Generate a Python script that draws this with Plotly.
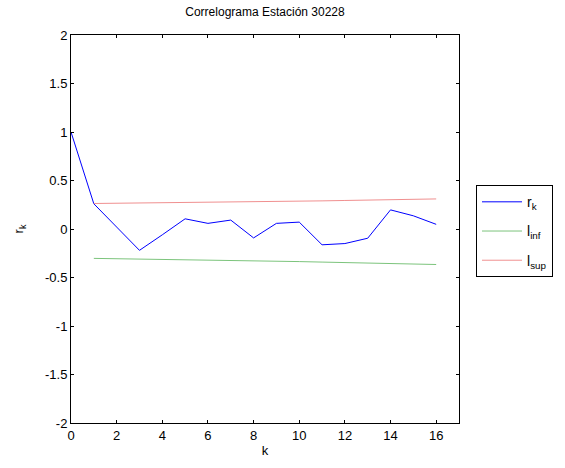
import plotly.graph_objects as go

k_rk = list(range(0, 17))
r_k = [1.0, 0.26, 0.02, -0.22, -0.06, 0.105, 0.058, 0.092, -0.092, 0.058, 0.071,
       -0.163, -0.15, -0.095, 0.197, 0.136, 0.048]

k_lim = list(range(1, 17))
l_inf = [-0.303, -0.306, -0.309, -0.312, -0.316, -0.320, -0.324, -0.328, -0.332, -0.336,
         -0.341, -0.346, -0.351, -0.356, -0.361, -0.366]
l_sup = [0.263, 0.265, 0.267, 0.269, 0.272, 0.275, 0.278, 0.281, 0.284, 0.287,
         0.290, 0.294, 0.298, 0.302, 0.306, 0.310]

x_ticks = [0, 2, 4, 6, 8, 10, 12, 14, 16]
y_ticks = [-2, -1.5, -1, -0.5, 0, 0.5, 1, 1.5, 2]
y_ticktext = ["-2", "-1.5", "-1", "-0.5", "0", "0.5", "1", "1.5", "2"]

font_family = "Liberation Sans, Arial, sans-serif"

fig = go.Figure()
fig.add_trace(go.Scatter(x=k_rk, y=r_k, mode="lines", name="r<sub>k</sub>", legendgroup="a",
                         line=dict(color="#0000ff", width=1)))
fig.add_trace(go.Scatter(x=k_lim, y=l_inf, mode="lines", name="l<sub>inf</sub>", legendgroup="b",
                         line=dict(color="#7cc47c", width=1)))
fig.add_trace(go.Scatter(x=k_lim, y=l_sup, mode="lines", name="l<sub>sup</sub>", legendgroup="c",
                         line=dict(color="#f09090", width=1)))

axis_common = dict(showline=True, linecolor="black", linewidth=1, mirror="ticks",
                   ticks="inside", ticklen=3, tickcolor="black", showgrid=False,
                   zeroline=False, tickfont=dict(size=13, color="black"))

fig.update_layout(
    width=565, height=468,
    paper_bgcolor="white", plot_bgcolor="white",
    margin=dict(l=71, r=106, t=35, b=43),
    font=dict(family=font_family, color="black", size=13),
    title=dict(text="Correlograma Estación 30228", x=(71 + 459) / 2 / 565, xanchor="center",
               y=1 - 12 / 468, yanchor="middle", font=dict(size=12)),
    xaxis=dict(range=[0, 17], tickvals=x_ticks,
               title=dict(text="k", standoff=4, font=dict(size=13)), **axis_common),
    yaxis=dict(range=[-2, 2], tickvals=y_ticks, ticktext=y_ticktext,
               title=dict(text="r<sub>k</sub>", standoff=18, font=dict(size=13)), **axis_common),
    legend=dict(x=(476 - 71) / 388, y=1 - (186 - 35) / 390, xanchor="left", yanchor="top",
                bordercolor="black", borderwidth=1, bgcolor="white",
                tracegroupgap=8, itemwidth=40,
                font=dict(size=14, color="black")),
    showlegend=True,
)

fig.write_html("out.html")
